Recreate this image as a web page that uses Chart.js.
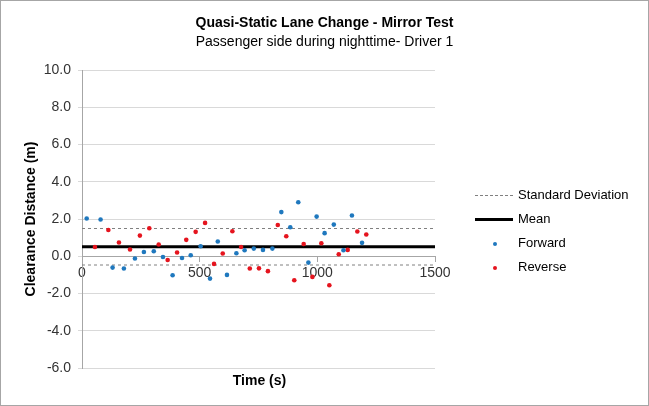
<!DOCTYPE html>
<html>
<head>
<meta charset="utf-8">
<script src="https://cdn.jsdelivr.net/npm/chart.js@4/dist/chart.umd.min.js"></script>
<style>
  html, body { margin: 0; padding: 0; background: #fff; }
  #wrap { position: relative; width: 649px; height: 406px; overflow: hidden; }
  #frame { position: absolute; left: 0; top: 0; width: 649px; height: 406px; box-sizing: border-box; border: 1px solid #a6a6a6; pointer-events: none; }
  #legend { position: absolute; left: 474px; top: 185px; font-family: 'Liberation Sans', Arial, sans-serif; font-size: 13px; color: #000; }
  .row { position: relative; height: 24px; }
  .row span.t { position: absolute; left: 44px; top: 2px; white-space: nowrap; }
  .dash { position: absolute; left: 1px; top: 10px; width: 38px; border-top: 1px dashed #808080; }
  .solid { position: absolute; left: 1px; top: 9px; width: 38px; height: 3px; background: #000; }
  .dot { position: absolute; left: 19px; top: 9px; width: 4px; height: 4px; border-radius: 50%; }
</style>
</head>
<body>
<div id="wrap">
  <canvas id="c" width="649" height="406"></canvas>
  <div id="legend">
    <div class="row"><div class="dash"></div><span class="t">Standard Deviation</span></div>
    <div class="row"><div class="solid"></div><span class="t">Mean</span></div>
    <div class="row"><div class="dot" style="background:#1F78BE"></div><span class="t">Forward</span></div>
    <div class="row"><div class="dot" style="background:#E5141E"></div><span class="t">Reverse</span></div>
  </div>
  <div id="frame"></div>
</div>
<script>
// ---- data ----
const forwardX = [20,79,130,178,225,263,305,344,385,425,462,504,544,577,616,656,691,730,769,809,847,885,919,962,997,1031,1070,1111,1147,1190];
const forwardY = [2.03,1.97,-0.61,-0.66,-0.12,0.23,0.27,-0.04,-1.02,-0.09,0.05,0.54,-1.2,0.79,-1.0,0.16,0.32,0.41,0.34,0.41,2.37,1.56,2.9,-0.34,2.13,1.24,1.7,0.32,2.19,0.72];
const reverseX = [55,112,157,204,246,286,326,364,404,443,483,523,561,598,639,676,713,752,790,832,868,902,942,979,1017,1051,1091,1129,1170,1208];
const reverseY = [0.5,1.41,0.74,0.36,1.11,1.5,0.63,-0.2,0.2,0.88,1.31,1.79,-0.41,0.15,1.34,0.5,-0.66,-0.65,-0.8,1.68,1.07,-1.29,0.66,-1.11,0.7,-1.56,0.11,0.34,1.33,1.17];
const lineX = [0, 1500];
const meanY = [0.51, 0.51];
const sdUpperY = [1.49, 1.49];
const sdLowerY = [-0.47, -0.47];
const xTicks = [0, 500, 1000, 1500];
const yTicks = [-6, -4, -2, 0, 2, 4, 6, 8, 10];

const titleText = 'Quasi-Static Lane Change - Mirror Test';
const subtitleText = 'Passenger side during nighttime- Driver 1';
const xTitle = 'Time (s)';
const yTitle = 'Clearance Distance (m)';

const FONT = "'Liberation Sans', Arial, sans-serif";
const zip = (xs, ys) => xs.map((x, i) => ({x: x, y: ys[i]}));

const xTitlePlugin = {
  id: 'xTitle',
  afterDraw(chart) {
    const ctx = chart.ctx, a = chart.chartArea;
    ctx.save();
    ctx.font = 'bold 14px ' + FONT;
    ctx.fillStyle = '#000';
    ctx.textAlign = 'center';
    ctx.textBaseline = 'middle';
    ctx.fillText(xTitle, (a.left + a.right) / 2 + 1, 381);
    ctx.restore();
  }
};

new Chart(document.getElementById('c'), {
  type: 'scatter',
  data: {
    datasets: [
      { label: 'Standard Deviation', type: 'line', data: zip(lineX, sdUpperY), borderColor: '#808080', borderWidth: 1, borderDash: [3, 3], pointRadius: 0, fill: false, order: 3 },
      { label: 'Standard Deviation (lower)', type: 'line', data: zip(lineX, sdLowerY), borderColor: '#808080', borderWidth: 1, borderDash: [3, 3], pointRadius: 0, fill: false, order: 3 },
      { label: 'Mean', type: 'line', data: zip(lineX, meanY), borderColor: '#000', borderWidth: 3, pointRadius: 0, fill: false, order: 2 },
      { label: 'Forward', data: zip(forwardX, forwardY), backgroundColor: '#1F78BE', borderWidth: 0, pointRadius: 2.3, order: 1 },
      { label: 'Reverse', data: zip(reverseX, reverseY), backgroundColor: '#E5141E', borderWidth: 0, pointRadius: 2.3, order: 1 }
    ]
  },
  options: {
    responsive: false,
    animation: false,
    events: [],
    layout: { padding: { left: 0, right: 0, top: 0, bottom: 38 } },
    plugins: {
      legend: { display: false },
      tooltip: { enabled: false },
      title: { display: true, text: titleText, color: '#000', font: { family: FONT, size: 14, weight: 'bold' }, padding: { top: 14.6, bottom: 0 } },
      subtitle: { display: true, text: subtitleText, color: '#000', font: { family: FONT, size: 14, weight: 'normal' }, padding: { top: 2.2, bottom: 19.6 } }
    },
    scales: {
      x: {
        type: 'linear',
        position: { y: 0 },
        min: 0, max: 1500,
        afterBuildTicks: (s) => { s.ticks = xTicks.map(v => ({ value: v })); },
        ticks: { color: '#333', font: { family: FONT, size: 14 }, padding: 3, maxRotation: 0, autoSkip: false, callback: (v) => String(v) },
        grid: { drawOnChartArea: false, drawTicks: true, tickLength: 5, color: '#a6a6a6' },
        border: { display: true, color: '#a6a6a6', width: 1 },
        title: { display: false }
      },
      y: {
        type: 'linear',
        position: 'left',
        min: -6, max: 10,
        afterBuildTicks: (s) => { s.ticks = yTicks.map(v => ({ value: v })); },
        afterFit: (s) => { s.width = 82; },
        ticks: { color: '#333', font: { family: FONT, size: 14 }, padding: 7, callback: (v) => Number(v).toFixed(1) },
        grid: { color: '#d9d9d9', lineWidth: 1, drawTicks: true, tickLength: 4 },
        border: { display: true, color: '#a6a6a6', width: 1 },
        title: { display: true, text: yTitle, color: '#000', font: { family: FONT, size: 14, weight: 'bold' }, padding: { top: 22.6, bottom: 0 } }
      },
      yRight: {
        type: 'linear',
        position: 'right',
        min: -6, max: 10,
        afterFit: (s) => { s.width = 214; },
        ticks: { display: false },
        grid: { display: false },
        border: { display: false },
        title: { display: false }
      }
    }
  },
  plugins: [xTitlePlugin]
});
</script>
</body>
</html>
